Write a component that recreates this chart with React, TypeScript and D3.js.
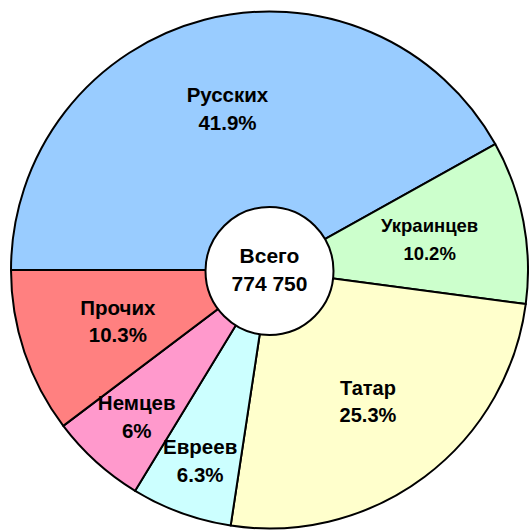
import React, { useRef, useEffect } from 'react';
import * as d3 from 'd3';

const categories = ['Русских', 'Украинцев', 'Татар', 'Евреев', 'Немцев', 'Прочих'];
const shares = [41.9, 10.2, 25.3, 6.3, 6, 10.3];
const colors = ['#99CCFF', '#CCFFCC', '#FFFFCC', '#CCFFFF', '#FF99CC', '#FF8080'];
const totalLabel = ['Всего', '774 750'];

// label placement: distance of the label block from the centre, and font size
const labelRadius = [167, 163, 164, 203, 198, 160];
const labelSize = [20.5, 18.5, 20, 20.5, 20.5, 20.5];

const width = 529;
const height = 530;

const App: React.FC = () => {
  const svgRef = useRef<SVGSVGElement>(null);

  useEffect(() => {
    if (!svgRef.current) return;
    const svg = d3.select(svgRef.current);
    svg.selectAll('*').remove();

    const cx = 269.5;
    const cy = 270;
    const radius = 258.5;
    const innerR = 64;
    const lineGap = 27.5;
    const font = 'Liberation Sans, Arial, sans-serif';

    const data = categories.map((c, i) => ({ name: c, value: shares[i], i }));

    const pie = d3
      .pie<any>()
      .value((d) => d.value)
      .sort(null)
      .startAngle(-Math.PI / 2)
      .endAngle((3 * Math.PI) / 2);

    const arcs = pie(data);

    const arc = d3.arc<any>().innerRadius(0).outerRadius(radius);

    const g = svg.append('g').attr('transform', `translate(${cx},${cy})`);

    // Slices
    g.selectAll('path.slice')
      .data(arcs)
      .enter()
      .append('path')
      .attr('class', 'slice')
      .attr('d', arc)
      .attr('fill', (d) => colors[d.data.i])
      .attr('stroke', '#000')
      .attr('stroke-width', 2)
      .attr('stroke-linejoin', 'round');

    // Labels (name above, percentage below)
    arcs.forEach((a) => {
      const i = a.data.i;
      const mid = (a.startAngle + a.endAngle) / 2;
      const r = labelRadius[i];
      const x = r * Math.sin(mid);
      const y = -r * Math.cos(mid);
      const fs = labelSize[i];
      const capHalf = fs * 0.36;
      g.append('text')
        .attr('x', x)
        .attr('y', y - lineGap / 2 + capHalf)
        .attr('text-anchor', 'middle')
        .attr('font-family', font)
        .attr('font-weight', 'bold')
        .attr('font-size', fs)
        .attr('fill', '#000')
        .text(a.data.name);
      g.append('text')
        .attr('x', x)
        .attr('y', y + lineGap / 2 + capHalf)
        .attr('text-anchor', 'middle')
        .attr('font-family', font)
        .attr('font-weight', 'bold')
        .attr('font-size', fs)
        .attr('fill', '#000')
        .text(`${a.data.value}%`);
    });

    // Centre circle with total
    g.append('circle')
      .attr('cx', 0)
      .attr('cy', 1)
      .attr('r', innerR)
      .attr('fill', '#fff')
      .attr('stroke', '#000')
      .attr('stroke-width', 2);

    const ct = g
      .append('text')
      .attr('text-anchor', 'middle')
      .attr('font-family', font)
      .attr('font-weight', 'bold')
      .attr('font-size', 21)
      .attr('fill', '#000');
    ct.append('tspan').attr('x', 0).attr('y', -15 + 21 * 0.36).text(totalLabel[0]);
    ct.append('tspan').attr('x', 0).attr('y', 13.5 + 21 * 0.36).text(totalLabel[1]);
  }, []);

  return (
    <svg
      ref={svgRef}
      width={width}
      height={height}
      style={{ position: 'absolute', left: 0, top: 0, background: '#fff' }}
    />
  );
};

export default App;
